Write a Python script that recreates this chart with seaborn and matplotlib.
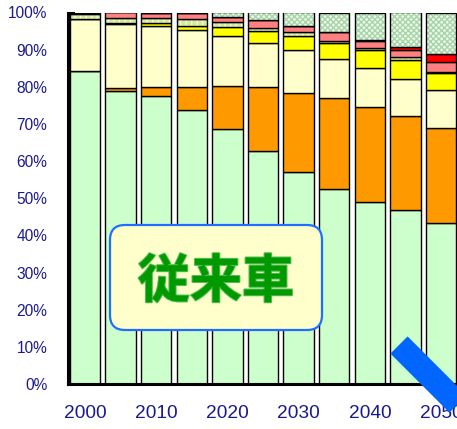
import numpy as np
import matplotlib
matplotlib.use("Agg")
import matplotlib.pyplot as plt
from matplotlib.patches import FancyBboxPatch
from matplotlib.lines import Line2D
import matplotlib.patheffects as pe
import seaborn as sns

sns.set_theme(style="white")
plt.rcParams["font.family"] = ["Liberation Sans", "Noto Sans CJK JP", "DejaVu Sans"]

# Vehicle fleet share by year (%), stacked from the bottom up
years = ["2000", "2005", "2010", "2015", "2020", "2025",
         "2030", "2035", "2040", "2045", "2050"]
tick_years = ["2000", "2010", "2020", "2030", "2040", "2050"]

conventional = [84.3, 78.9, 77.5, 73.8, 68.6, 62.8, 57.1, 52.4, 49.1, 46.8, 43.3]
hybrid       = [0.0, 0.7, 2.5, 6.2, 11.7, 17.1, 21.3, 24.7, 25.5, 25.3, 25.7]
diesel       = [13.9, 17.4, 16.5, 15.4, 13.4, 12.0, 11.5, 10.5, 10.5, 10.1, 10.1]
plugin       = [0.0, 0.2, 0.7, 1.1, 2.4, 3.1, 3.8, 4.1, 4.7, 4.9, 4.6]
gas_fuel     = [1.3, 1.4, 1.2, 1.7, 1.4, 0.9, 1.0, 0.5, 0.6, 1.0, 0.4]
electric     = [0.5, 1.4, 1.6, 1.8, 1.4, 2.0, 1.8, 2.5, 1.8, 1.9, 2.5]
fuel_cell    = [0.0, 0.0, 0.0, 0.0, 0.0, 0.0, 0.0, 0.0, 0.4, 0.8, 2.3]
other        = [0.0, 0.0, 0.0, 0.0, 1.1, 2.1, 3.5, 5.3, 7.4, 9.2, 11.1]

y_ticks = [0, 10, 20, 30, 40, 50, 60, 70, 80, 90, 100]
box_label = "従来車"

# (values, face colour, hatch, hatch colour)
layers = [
    (conventional, "#CCFFCC", None, None),
    (hybrid,       "#FF9900", None, None),
    (diesel,       "#FFFFCC", None, None),
    (plugin,       "#FFFF00", None, None),
    (gas_fuel,     "#D6EA99", "|||", "#F4F9E4"),
    (electric,     "#FF8080", None, None),
    (fuel_cell,    "#FF0000", None, None),
    (other,        "#EEF8EE", "xxxxxx", "#A6D6A6"),
]

fig = plt.figure(figsize=(4.57, 4.29), dpi=100)
ax = fig.add_axes([68 / 457, 45 / 429, 394.4 / 457, 371.5 / 429])

bar_w = 0.85
edge_lw = 1.0
bottom = np.zeros(len(years))
for values, face, hatch, hcol in layers:
    vals = np.asarray(values, dtype=float)
    if hatch is None:
        sns.barplot(x=years, y=vals, bottom=bottom, color=face, saturation=1,
                    width=bar_w, edgecolor="black", linewidth=edge_lw,
                    errorbar=None, ax=ax)
    else:
        # patterned fill first, then the black outline on top
        sns.barplot(x=years, y=vals, bottom=bottom, color=face, saturation=1,
                    width=bar_w, edgecolor=hcol, linewidth=0, hatch=hatch,
                    errorbar=None, ax=ax)
        sns.barplot(x=years, y=vals, bottom=bottom, color=face, saturation=1,
                    width=bar_w, edgecolor="black", linewidth=edge_lw,
                    fill=False, errorbar=None, ax=ax)
    bottom = bottom + vals

label_col = "#1A1A8C"
ax.set_xlim(-0.478, 10.6)
ax.set_ylim(0, 100)
ax.set_yticks(y_ticks)
ax.set_yticklabels([f"{t}%" for t in y_ticks], fontsize=11.2, color=label_col)
ax.set_xticks(range(0, len(years), 2))
ax.set_xticklabels(tick_years, fontsize=13.8, color=label_col)
ax.tick_params(axis="y", direction="in", length=5, width=1.5, color="black", pad=15, left=True)
ax.tick_params(axis="x", length=0, pad=15)
ax.set_xlabel("")
ax.set_ylabel("")
for side in ("top", "right"):
    ax.spines[side].set_visible(False)
for side in ("left", "bottom"):
    ax.spines[side].set_color("black")
    ax.spines[side].set_linewidth(2.2)
ax.grid(False)

# Rounded label box (inch coordinates so the corners stay round)
box = FancyBboxPatch((1.10, 0.99), 2.12, 1.05,
                     boxstyle="round,pad=0,rounding_size=0.15",
                     facecolor="#FFFFCC", edgecolor="#1E6FFF", linewidth=1.6,
                     transform=fig.dpi_scale_trans, zorder=10)
fig.add_artist(box)
fig.text(2.16, 1.47, box_label, transform=fig.dpi_scale_trans,
         ha="center", va="center", fontsize=37.5, fontweight="bold",
         color="#009900", family=["Noto Sans CJK JP"], zorder=11,
         path_effects=[pe.withStroke(linewidth=1.5, foreground="#55BB55")])

# Diagonal blue band running off the lower right corner
band = Line2D([3.99, 5.0], [0.84, -0.17], transform=fig.dpi_scale_trans,
              color="#0066FF", linewidth=17.5, solid_capstyle="butt", zorder=12)
fig.add_artist(band)

fig.savefig("out.png", dpi=100)
